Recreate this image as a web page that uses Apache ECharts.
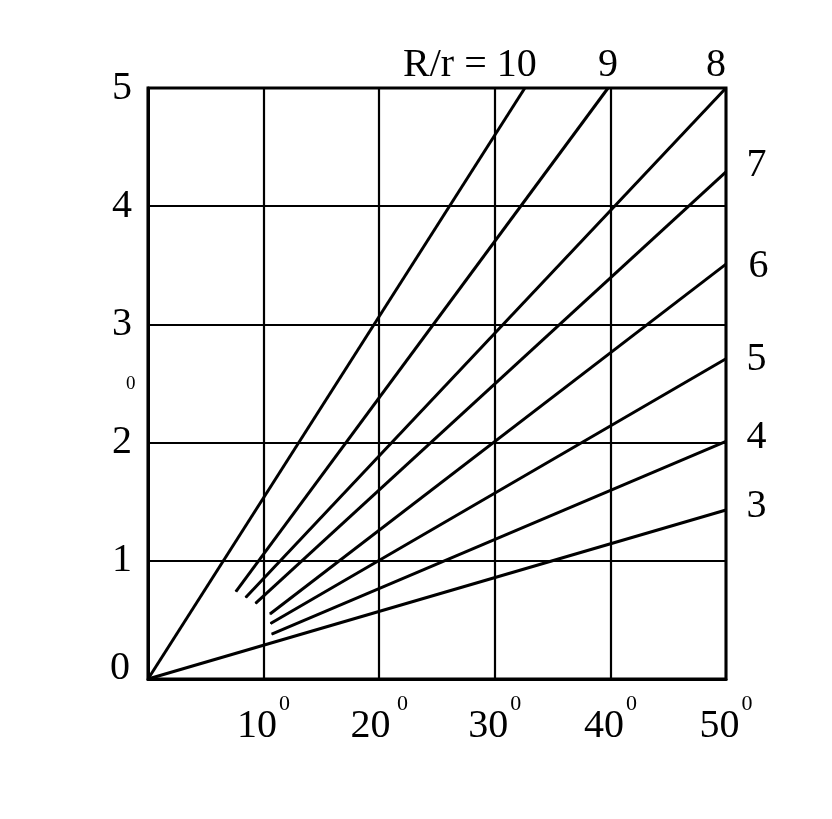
<!DOCTYPE html>
<html>
<head>
<meta charset="utf-8">
<script src="https://cdn.jsdelivr.net/npm/echarts@6/dist/echarts.min.js"></script>
<style>
  html, body { margin: 0; padding: 0; background: #fff; }
  #main { width: 832px; height: 819px; }
</style>
</head>
<body>
<div id="main"></div>
<script>
// R/r ratio of each line
var ratios = ['10', '9', '8', '7', '6', '5', '4', '3'];
// where each line starts and ends (x in degrees, y in axis units)
var startX = [0, 7.6, 8.45, 9.3, 10.55, 10.6, 10.7, 0];
var startY = [0, 0.74, 0.69, 0.64, 0.55, 0.47, 0.38, 0];
var endX = [32.6, 39.8, 50, 50, 50, 50, 50, 50];
var endY = [5, 5, 5, 4.29, 3.51, 2.71, 2.01, 1.43];
var xTicks = [10, 20, 30, 40, 50];
var yTicks = [0, 1, 2, 3, 4, 5];

var FONT = '"Liberation Serif", "DejaVu Serif", serif';

var chart = echarts.init(document.getElementById('main'), null, { renderer: 'canvas' });

// small nudges so the end labels sit where the drawing has them
var labelNudge = [[-55, 0], [0, 0], [-10, 0], [0, -6], [2, 2], [0, 1], [0, -4], [0, -3]];

function endLabel(i) {
  var txt = ratios[i];
  if (i === 0) {
    return { show: true, formatter: 'R/r = ' + txt, position: 'top', distance: 2, offset: labelNudge[i] };
  }
  if (endY[i] >= 5) {
    return { show: true, formatter: txt, position: 'top', distance: 2, offset: labelNudge[i] };
  }
  return { show: true, formatter: txt, position: 'right', distance: 20, offset: labelNudge[i] };
}

var series = ratios.map(function (r, i) {
  return {
    name: 'R/r=' + r,
    type: 'line',
    symbol: 'circle',
    symbolSize: 1,
    itemStyle: { color: '#000' },
    lineStyle: { color: '#000', width: 3 },
    silent: true,
    label: { fontFamily: FONT, fontSize: 40, color: '#000' },
    data: [
      { value: [startX[i], startY[i]], label: { show: false } },
      { value: [endX[i], endY[i]], label: endLabel(i) }
    ],
    z: 5
  };
});

var option = {
  backgroundColor: '#fff',
  animation: false,
  grid: {
    left: 148, right: 106, top: 88, bottom: 140,
    show: true, borderColor: '#000', borderWidth: 3
  },
  xAxis: {
    type: 'value',
    min: 0, max: 50, interval: 10,
    axisLine: { show: true, lineStyle: { color: '#000', width: 3 } },
    axisTick: { show: false },
    splitLine: { show: true, lineStyle: { color: '#000', width: 2.2 } },
    axisLabel: {
      margin: 14,
      formatter: function (v) {
        if (xTicks.indexOf(v) < 0) return '';
        return '{a|' + v + '}' + (v === 20 ? '{s| }' : '') + '{b|0}';
      },
      rich: {
        a: { fontFamily: FONT, fontSize: 40, color: '#000' },
        s: { fontFamily: FONT, fontSize: 18 },
        b: { fontFamily: FONT, fontSize: 22, color: '#000', padding: [0, 0, 44, 2] }
      }
    }
  },
  yAxis: {
    type: 'value',
    min: 0, max: 5, interval: 1,
    axisLine: { show: true, lineStyle: { color: '#000', width: 3 } },
    axisTick: { show: false },
    splitLine: { show: true, lineStyle: { color: '#000', width: 2.2 } },
    axisLabel: {
      margin: 16,
      formatter: function (v) {
        if (yTicks.indexOf(v) < 0) return '';
        return v === 0 ? '{z|0}' : '{n|' + v + '}';
      },
      rich: {
        n: { fontFamily: FONT, fontSize: 40, color: '#000' },
        z: { fontFamily: FONT, fontSize: 40, color: '#000', padding: [0, 2, 22, 0] }
      }
    }
  },
  graphic: [{
    type: 'text',
    left: 126, top: 375,
    style: { text: '0', font: '19px ' + FONT, fill: '#000' }
  }],
  series: series
};

chart.setOption(option);
</script>
</body>
</html>
